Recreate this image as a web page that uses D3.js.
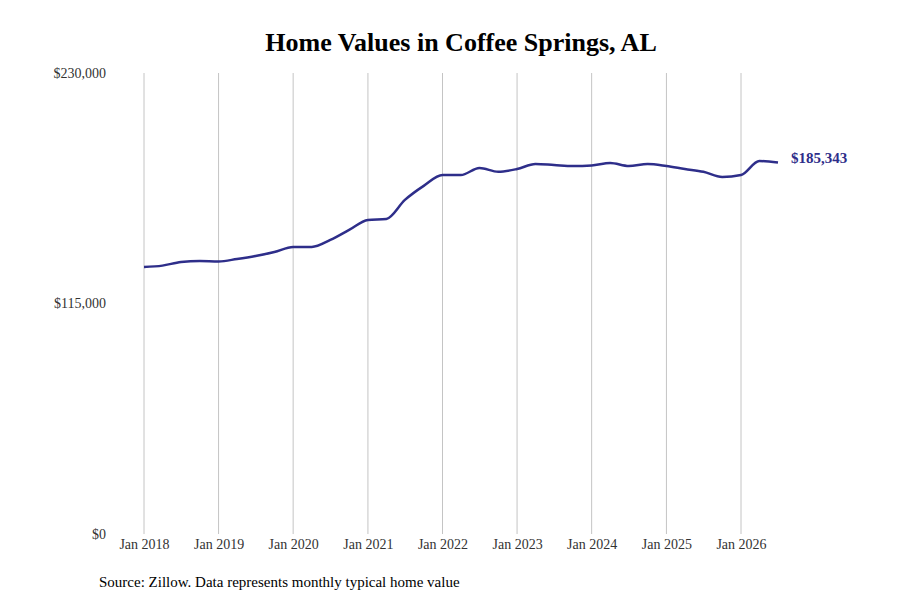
<!DOCTYPE html>
<html>
  <head>
    <meta charset="utf-8" />
    <style>
      body{ margin:0; background:white; font-family: 'Liberation Serif', serif; }
    </style>
  </head>
  <body>
    <script src="https://d3js.org/d3.v7.min.js"></script>
    <svg id="chart"></svg>
    <script>
      var width = 900;
      var height = 600;

      // quarterly typical home value
      var values = [
        ["2018-01", 133200], ["2018-04", 133900], ["2018-07", 135700], ["2018-10", 136200],
        ["2019-01", 136000], ["2019-04", 137200], ["2019-07", 138700], ["2019-10", 140700],
        ["2020-01", 143200], ["2020-04", 143200], ["2020-07", 146700], ["2020-10", 151700],
        ["2021-01", 156700], ["2021-04", 157200], ["2021-07", 166700], ["2021-10", 173700],
        ["2022-01", 179100], ["2022-04", 179100], ["2022-07", 182600], ["2022-10", 180700],
        ["2023-01", 182100], ["2023-04", 184600], ["2023-07", 184100], ["2023-10", 183600],
        ["2024-01", 183900], ["2024-04", 185100], ["2024-07", 183600], ["2024-10", 184600],
        ["2025-01", 183600], ["2025-04", 182100], ["2025-07", 180700], ["2025-10", 178100],
        ["2026-01", 179100], ["2026-04", 186100], ["2026-07", 185343]
      ];
      var parse = d3.timeParse("%Y-%m");
      var data = values.map(function (d) { return { date: parse(d[0]), value: d[1] }; });

      var svg = d3.select("#chart").attr("width", width).attr("height", height);

      var x = d3.scaleTime()
        .domain([parse("2018-01"), parse("2026-01")])
        .range([144, 741]);
      var y = d3.scaleLinear().domain([0, 230000]).range([534, 73]);

      svg.append("text")
        .attr("x", 461).attr("y", 51)
        .attr("text-anchor", "middle")
        .attr("font-size", 26).attr("font-weight", "bold")
        .text("Home Values in Coffee Springs, AL");

      var ticks = d3.range(2018, 2027).map(function (yr) { return parse(yr + "-01"); });

      svg.selectAll(".grid")
        .data(ticks)
        .enter()
        .append("line")
        .attr("x1", function (d) { return x(d); })
        .attr("x2", function (d) { return x(d); })
        .attr("y1", 73).attr("y2", 534)
        .attr("stroke", "#c4c4c4").attr("stroke-width", 1);

      var xAxis = svg.append("g")
        .attr("transform", "translate(0,534)")
        .call(d3.axisBottom(x).tickValues(ticks).tickFormat(d3.timeFormat("Jan %Y")).tickSize(0).tickPadding(5));
      xAxis.select(".domain").remove();
      xAxis.selectAll("text").attr("font-size", 14).attr("fill", "#333").attr("font-family", "Liberation Serif, serif");

      var yAxis = svg.append("g")
        .attr("transform", "translate(106,0)")
        .call(d3.axisLeft(y).tickValues([0, 115000, 230000]).tickFormat(d3.format("$,")).tickSize(0).tickPadding(0));
      yAxis.select(".domain").remove();
      yAxis.selectAll("text").attr("font-size", 14).attr("fill", "#333").attr("font-family", "Liberation Serif, serif");

      var line = d3.line()
        .x(function (d) { return x(d.date); })
        .y(function (d) { return y(d.value); })
        .curve(d3.curveMonotoneX);

      svg.append("path")
        .datum(data)
        .attr("d", line)
        .attr("fill", "none")
        .attr("stroke", "#2e2e8a")
        .attr("stroke-width", 2.5);

      var last = data[data.length - 1];
      svg.append("text")
        .attr("x", x(last.date) + 13).attr("y", y(last.value))
        .attr("font-size", 15).attr("font-weight", "bold")
        .attr("fill", "#2e2e8a")
        .text(d3.format("$,")(last.value));

      svg.append("text")
        .attr("x", 99).attr("y", 587)
        .attr("font-size", 15)
        .text("Source: Zillow. Data represents monthly typical home value");
    </script>
  </body>
</html>
